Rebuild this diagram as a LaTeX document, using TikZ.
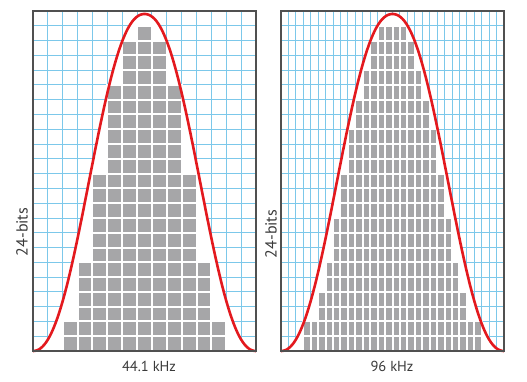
\documentclass[tikz,border=0pt]{standalone}
\usepackage{fontspec}
\setmainfont{PT Sans}
\definecolor{gridblue}{HTML}{7CC8EA}
\definecolor{blockgray}{HTML}{A6A6A8}
\definecolor{curvered}{HTML}{E3191E}
\definecolor{framegray}{HTML}{505050}
\definecolor{labelgray}{HTML}{3A3A3A}

\begin{document}
\begin{tikzpicture}[
    x=1pt, y=-1pt,
    declare function={bell(\u)=1-(1.5*\u^2+4*\u^3-7.5*\u^4+3*\u^5);},
    gridline/.style={draw=gridblue, line width=0.9pt},
    block/.style={fill=blockgray, draw=white, line width=2pt},
    curve/.style={draw=curvered, line width=2.6pt},
    panelframe/.style={draw=framegray, line width=1.3pt},
    baseline/.style={draw=framegray, line width=2.2pt},
    axislabel/.style={font=\fontsize{14.5}{16}\selectfont, text=labelgray},
    sidelabel/.style={axislabel, font=\fontsize{16}{18}\selectfont, rotate=90},
]

\useasboundingbox (0,0) rectangle (527,382);

% === 44.1 kHz panel (left) ===
% grid: 15 columns x 23 rows
\foreach \i in {1,...,14}
    \draw[gridline] ({33+\i*223/15},11) -- ({33+\i*223/15},351);
\foreach \j in {1,...,22}
    \draw[gridline] (33,{11+\j*340/23}) -- (256,{11+\j*340/23});

% white area under the curve
\fill[white] plot[domain=-1:1, samples=120] ({144.5+111.5*\x},{351-337*bell(abs(\x))}) -- cycle;

% sample blocks (column / first row)
\foreach \c/\s in {2/21,3/17,4/11,5/5,6/2,7/1,8/2,9/5,10/11,11/17,12/21}
    \foreach \r in {\s,...,22}
        \draw[block] ({33+\c*223/15},{11+\r*340/23}) rectangle ++({223/15},{340/23});

% curve and frame
\draw[curve] plot[domain=-1:1, samples=120] ({144.5+111.5*\x},{351-337*bell(abs(\x))});
\draw[panelframe] (33,11) rectangle (256,351);
\draw[baseline] (33,351) -- (256,351);

\node[sidelabel] (bitsL) at (22,232) {24-bits};
\node[axislabel] (freqL) at (149,366) {44.1 kHz};

% === 96 kHz panel (right) ===
% grid: 30 columns x 23 rows
\foreach \i in {1,...,29}
    \draw[gridline] ({281+\i*223/30},11) -- ({281+\i*223/30},351);
\foreach \j in {1,...,22}
    \draw[gridline] (281,{11+\j*340/23}) -- (504,{11+\j*340/23});

% white area under the curve
\fill[white] plot[domain=-1:1, samples=120] ({392.5+111.5*\x},{351-337*bell(abs(\x))}) -- cycle;

% sample blocks (column / first row)
\foreach \c/\s in {3/21,4/21,5/19,6/17,7/14,8/11,9/8,10/6,11/4,12/2,13/1,14/1,
                   15/1,16/1,17/2,18/4,19/6,20/8,21/11,22/14,23/17,24/19,25/21,26/21}
    \foreach \r in {\s,...,22}
        \draw[block] ({281+\c*223/30},{11+\r*340/23}) rectangle ++({223/30},{340/23});

% curve and frame
\draw[curve] plot[domain=-1:1, samples=120] ({392.5+111.5*\x},{351-337*bell(abs(\x))});
\draw[panelframe] (281,11) rectangle (504,351);
\draw[baseline] (281,351) -- (504,351);

\node[sidelabel] (bitsR) at (271,234) {24-bits};
\node[axislabel] (freqR) at (392,366) {96 kHz};

\end{tikzpicture}
\end{document}
